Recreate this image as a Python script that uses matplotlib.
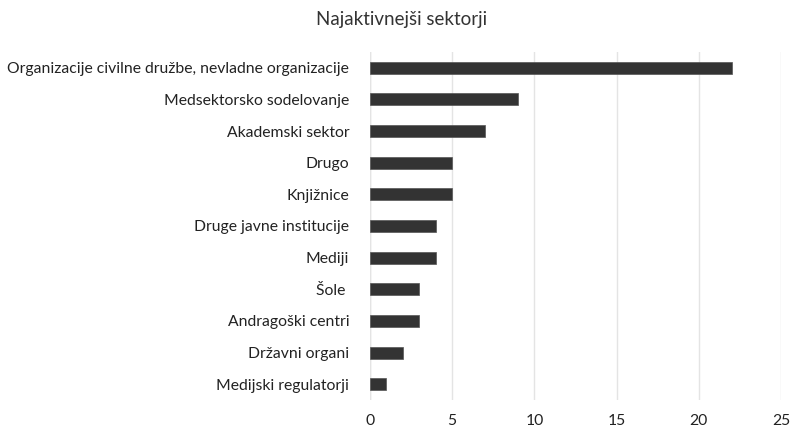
import matplotlib
matplotlib.use("Agg")
import matplotlib.pyplot as plt

categories = [
    "Organizacije civilne družbe, nevladne organizacije",
    "Medsektorsko sodelovanje",
    "Akademski sektor",
    "Drugo",
    "Knjižnice",
    "Druge javne institucije",
    "Mediji",
    "Šole ",
    "Andragoški centri",
    "Državni organi",
    "Medijski regulatorji",
]
values = [22, 9, 7, 5, 5, 4, 4, 3, 3, 2, 1]
xticks = [0, 5, 10, 15, 20, 25]
title = "Najaktivnejši sektorji"

plt.rcParams['font.family'] = ['Lato', 'DejaVu Sans']

fig = plt.figure(figsize=(7.92, 4.29), dpi=100)
ax = fig.add_axes([370/792, 1-400/429, (781-370)/792, (400-52)/429])

ypos = list(range(len(categories)))
ax.barh(ypos, values, height=0.38, color="#333333", edgecolor="#555555", linewidth=0.5, zorder=3)
ax.set_ylim(len(categories)-0.5, -0.5)
ax.set_xlim(0, 25)
ax.set_yticks(ypos)
ax.set_yticklabels(categories, fontsize=11.3, color="#222222")
ax.set_xticks(xticks)
ax.set_xticklabels([str(t) for t in xticks], fontsize=11.3, color="#222222")
ax.tick_params(axis='y', length=0, pad=15)
ax.tick_params(axis='x', length=0, pad=10)
ax.grid(axis='x', color="#e4e4e4", linewidth=1, zorder=0)
ax.grid(axis='y', visible=False)
for s in ax.spines.values():
    s.set_visible(False)
ax.axvline(0, color="#e4e4e4", linewidth=1, zorder=0)

fig.text(402/792, 1-20/429, title, ha='center', va='center', fontsize=13.5, color="#333333")

fig.savefig("out.png", dpi=100)
